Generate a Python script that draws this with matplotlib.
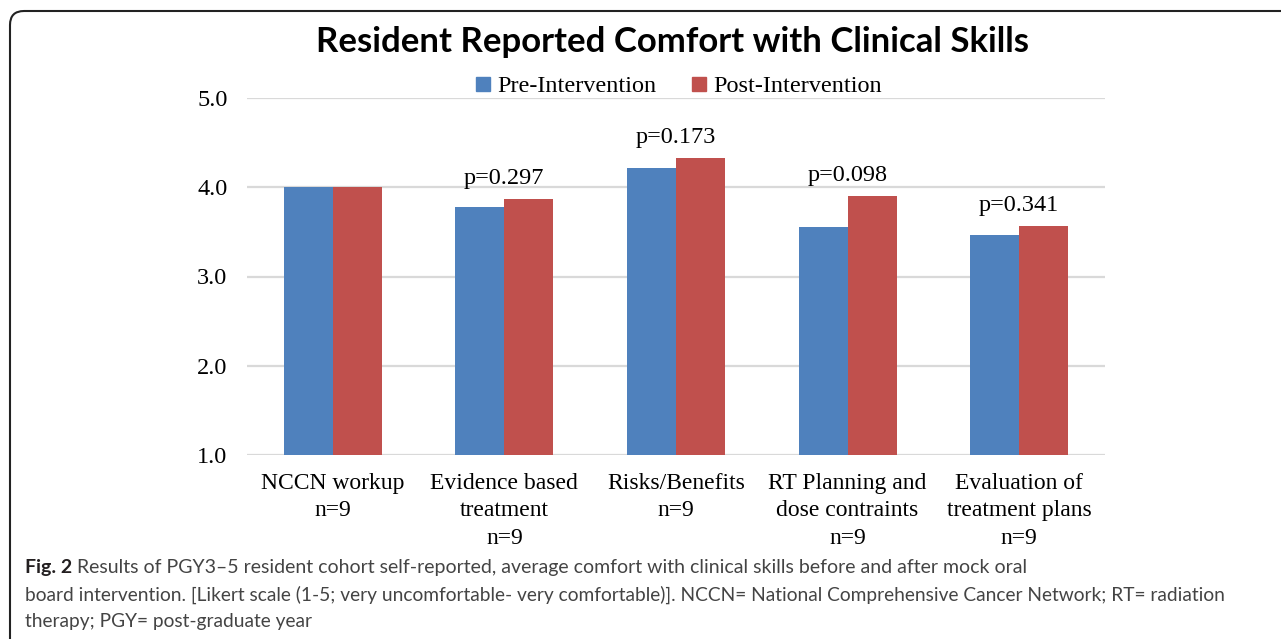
import matplotlib.pyplot as plt
from matplotlib.patches import FancyBboxPatch, Patch
from matplotlib.transforms import IdentityTransform
import numpy as np

# chart data
categories = ["NCCN workup\nn=9", "Evidence based\ntreatment\nn=9", "Risks/Benefits\nn=9",
              "RT Planning and\ndose contraints\nn=9", "Evaluation of\ntreatment plans\nn=9"]
pre_values = [4.00, 3.78, 4.22, 3.56, 3.47]
post_values = [4.00, 3.87, 4.33, 3.90, 3.57]
p_labels = ["", "p=0.297", "p=0.173", "p=0.098", "p=0.341"]
y_ticks = [1.0, 2.0, 3.0, 4.0, 5.0]

caption_bold = "Fig. 2"
caption_lines = [
    " Results of PGY3\u20135 resident cohort self-reported, average comfort with clinical skills before and after mock oral",
    "board intervention. [Likert scale (1-5; very uncomfortable- very comfortable)]. NCCN= National Comprehensive Cancer Network; RT= radiation",
    "therapy; PGY= post-graduate year",
]

blue = "#4F81BD"
red = "#C0504D"
serif = ["Liberation Serif", "DejaVu Serif"]

W, H = 1281, 639
fig = plt.figure(figsize=(W / 100, H / 100), dpi=100)
ax = fig.add_axes([247 / W, 1 - 455 / H, (1105 - 247) / W, (455 - 98) / H])

x = np.arange(len(categories))
bw = 0.285
ax.bar(x - bw / 2, pre_values, bw, color=blue, zorder=3)
ax.bar(x + bw / 2, post_values, bw, color=red, zorder=3)

# p-values above each pair
for xi, a, b, lab in zip(x, pre_values, post_values, p_labels):
    if lab:
        ax.annotate(lab, (xi, max(a, b)), xytext=(0, 7), textcoords="offset points",
                    ha="center", va="bottom", fontsize=17.5, family=serif)

ax.set_ylim(1, 5)
ax.set_xlim(-0.5, len(categories) - 0.5)
ax.set_yticks(y_ticks)
ax.set_yticklabels([f"{v:.1f}" for v in y_ticks], fontsize=17.5, family=serif)
ax.set_xticks(x)
ax.set_xticklabels(categories, fontsize=17, family=serif, linespacing=1.4)
ax.tick_params(length=0)
ax.tick_params(axis="y", pad=14)
ax.tick_params(axis="x", pad=13)
ax.grid(axis="y", color="#D9D9D9", lw=1.6, zorder=0)
for s in ax.spines.values():
    s.set_visible(False)

# title and legend
fig.text(672 / W, 1 - 42 / H, "Resident Reported Comfort with Clinical Skills",
         ha="center", va="center", fontsize=25, fontweight="bold", family="Lato")
handles = [Patch(color=blue, label="Pre-Intervention"), Patch(color=red, label="Post-Intervention")]
fig.legend(handles=handles, loc="center", bbox_to_anchor=(679 / W, 1 - 87 / H), ncol=2,
           frameon=False, prop={"family": serif, "size": 17.5}, handlelength=0.55, handleheight=0.55,
           handletextpad=0.3, columnspacing=1.5)

# caption
fig.canvas.draw()
r = fig.canvas.get_renderer()
cap_y = [568, 595, 622]
t = fig.text(25 / W, 1 - cap_y[0] / H, caption_bold, ha="left", va="center", fontsize=14,
             fontweight="bold", family="Lato", color="#231F20")
bb = t.get_window_extent(r)
fig.text(bb.x1 / W, 1 - cap_y[0] / H, caption_lines[0], ha="left", va="center", fontsize=14,
         family="Lato", color="#444444")
for yy, line in zip(cap_y[1:], caption_lines[1:]):
    fig.text(25 / W, 1 - yy / H, line, ha="left", va="center", fontsize=13.8,
             family="Lato", color="#444444")

# rounded border box, cut off at right and bottom
box = FancyBboxPatch((10, -60), 1400, (H - 11) + 60, boxstyle="round,pad=0,rounding_size=14",
                     transform=IdentityTransform(), fill=False, ec="#222222", lw=1.5)
fig.patches.append(box)

fig.savefig("out.png", dpi=100)
